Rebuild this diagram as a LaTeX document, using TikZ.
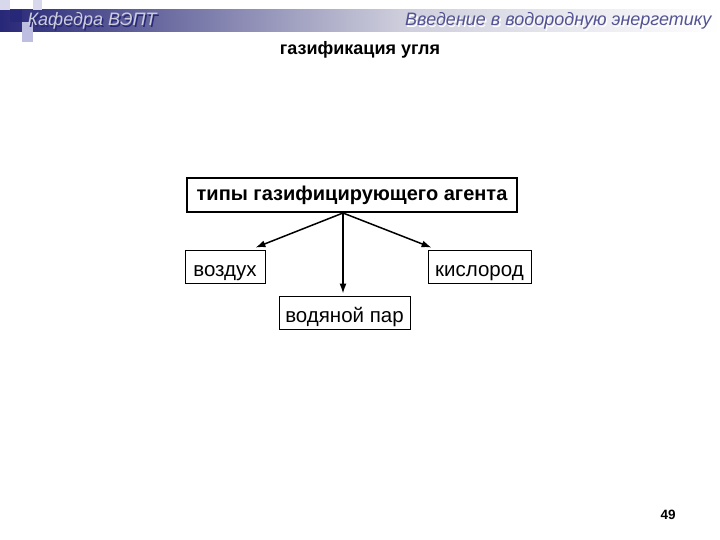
\documentclass[tikz,border=0pt]{standalone}
\usepackage{fontspec}
\setmainfont{Liberation Sans}
\usetikzlibrary{positioning}
\usetikzlibrary{shapes.geometric, arrows.meta}

\definecolor{navy}{RGB}{40,40,120}
\definecolor{mist}{RGB}{205,205,220}
\definecolor{lilac}{RGB}{190,190,225}

\tikzset{
  agentbox/.style={draw, line width=2pt, minimum width=330pt, minimum height=34pt, text height=12pt, text depth=0pt, font=\fontsize{20}{24}\selectfont\bfseries},
  typbox/.style={draw, line width=0.8pt, minimum height=33pt, text height=20pt, text depth=0pt, font=\fontsize{20.5}{24}\selectfont},
  flow/.style={-{Latex[length=10pt,width=7pt]}, line width=1.5pt}
}

\begin{document}
\begin{tikzpicture}[x=1pt,y=-1pt]
    \useasboundingbox (0,0) rectangle (720,540);
    % Header band
    \shade[left color=navy, right color=mist] (0,10) rectangle (400,32);
    \shade[left color=mist, right color=white] (400,10) rectangle (720,32);
    \fill[lilac!60] (0,0) rectangle (10,10);
    \fill[lilac!60] (33,0) rectangle (42,10);
    \fill[navy] (10,10) rectangle (22,22);
    \fill[lilac] (22,22) rectangle (33,42);
    \node[anchor=west, text=navy, font=\fontsize{18}{21}\selectfont\itshape] at (25.5,22.5) {Кафедра ВЭПТ};
    \node[anchor=west, text=mist, font=\fontsize{18}{21}\selectfont\itshape] (kafedra) at (24,21) {Кафедра ВЭПТ};
    \node[anchor=east, text=white, font=\fontsize{18}{22}\selectfont\itshape] at (716.5,22.5) {Введение в водородную энергетику};
    \node[anchor=east, text=navy!80, font=\fontsize{18}{22}\selectfont\itshape] (kurs) at (715,21) {Введение в водородную энергетику};
    % Title
    \node[font=\fontsize{18}{22}\selectfont\bfseries] (title) at (360,50) {газификация угля};
    % Boxes
    \node[agentbox] (agent) at (352,195) {типы газифицирующего агента};
    \node[typbox, minimum width=80pt] (vozduh) at (225,266.5) {воздух};
    \node[typbox, minimum width=103pt] (kislorod) at (479.5,266.5) {кислород};
    \node[typbox, minimum width=131pt] (par) at (344.5,312.5) {водяной пар};
    % Arrows
    \coordinate (fork) at ([xshift=-9pt]agent.south);
    \draw[flow] (fork) -- ([xshift=-10pt,yshift=2pt]vozduh.north east);
    \draw[flow] (fork) -- ([xshift=4pt,yshift=2pt]kislorod.north west);
    \draw[flow] (fork) -- ([xshift=-1.5pt,yshift=2pt]par.north);
    % Page number
    \node[font=\fontsize{13.5}{16}\selectfont\bfseries] (page) at (668,515) {49};
\end{tikzpicture}
\end{document}
